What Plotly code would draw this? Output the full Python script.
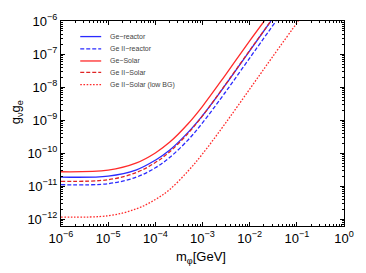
import plotly.graph_objects as go

# masses (GeV) at which curves were read
mass = [1e-6, 1e-5, 4e-5, 1e-4, 2e-4, 5e-4, 1e-3, 3e-3, 1e-2]

names = ["Ge\u2212reactor", "Ge II\u2212reactor", "Ge\u2212Solar", "Ge II\u2212Solar", "Ge II\u2212Solar (low BG)"]
colors = ["#2a2aff", "#2a2aff", "#ff2a2a", "#e02424", "#ff2a2a"]
dashes = ["solid", "4px,2px", "solid", "4px,2px", "1.6px,1.6px"]

# log10(g) values; last point is where each curve leaves the top
ge_reactor_log = [-10.72, -10.69, -10.50, -10.21, -9.91, -9.36, -8.86, -7.95, -6.90]
ge_reactor_end_mass = 10 ** -1.55
ge2_reactor_log = [-10.95, -10.92, -10.72, -10.44, -10.13, -9.59, -9.08, -8.17, -7.12]
ge2_reactor_end_mass = 10 ** -1.44
ge_solar_log = [-10.56, -10.51, -10.29, -9.99, -9.67, -9.10, -8.58, -7.65, -6.60]
ge_solar_end_mass = 10 ** -1.69
ge2_solar_log = [-10.85, -10.80, -10.58, -10.28, -9.96, -9.39, -8.87, -7.94, -6.89]
ge2_solar_end_mass = 10 ** -1.55
lowbg_extra_mass = [3e-2, 1e-1]
ge2_lowbg_log = [-11.93, -11.89, -11.68, -11.40, -11.10, -10.53, -10.02, -9.11, -8.06, -7.10, -6.06]
ge2_lowbg_end_mass = 10 ** -0.97
top_log = -6.0

series = [
    (mass + [ge_reactor_end_mass], ge_reactor_log + [top_log]),
    (mass + [ge2_reactor_end_mass], ge2_reactor_log + [top_log]),
    (mass + [ge_solar_end_mass], ge_solar_log + [top_log]),
    (mass + [ge2_solar_end_mass], ge2_solar_log + [top_log]),
    (mass + lowbg_extra_mass + [ge2_lowbg_end_mass], ge2_lowbg_log + [top_log]),
]

fig = go.Figure()
for (xs, lys), name, c, d in zip(series, names, colors, dashes):
    fig.add_trace(go.Scatter(
        x=xs, y=[10 ** v for v in lys], mode="lines", name=name,
        line=dict(color=c, width=1.3, dash=d, shape="spline", smoothing=1.0),
        showlegend=False,
    ))

# compact legend (drawn in paper coordinates)
leg_y = [0.924, 0.864, 0.805, 0.749, 0.690]
for name, c, d, yy in zip(names, colors, dashes, leg_y):
    fig.add_shape(type="line", xref="paper", yref="paper", x0=0.068, x1=0.142, y0=yy, y1=yy,
                  line=dict(color=c, width=1.3, dash=d))
    fig.add_annotation(xref="paper", yref="paper", x=0.166, y=yy, text=name, showarrow=False,
                       xanchor="left", yanchor="middle", font=dict(size=7, color="#444444"))

# axis titles
fig.add_annotation(xref="paper", yref="paper", x=0.493, y=-0.155, text="m<sub>\u03c6</sub>[GeV]",
                   showarrow=False, xanchor="center", yanchor="middle", font=dict(size=13, color="black"))
fig.add_annotation(xref="paper", yref="paper", x=-0.158, y=0.556, text="g<sub>\u03bd</sub>g<sub>e</sub>",
                   showarrow=False, xanchor="center", yanchor="middle", textangle=-90,
                   font=dict(size=13, color="black"))

x_decades = [-6, -5, -4, -3, -2, -1, 0]
y_decades = [-12, -11, -10, -9, -8, -7, -6]


def labels(decs):
    return ["10<sup>\u2212%d</sup>" % (-d) if d < 0 else "10<sup>%d</sup>" % d for d in decs]


def minors(decs):
    return [k * 10 ** d for d in range(min(decs) - 1, max(decs) + 1) for k in range(2, 10)]


axis_common = dict(
    type="log", showline=True, linecolor="black", linewidth=1.2, mirror="ticks",
    ticks="inside", ticklen=4, tickcolor="black", tickwidth=1, showgrid=False, zeroline=False,
    tickfont=dict(size=13, color="black"), ticklabeloverflow="allow",
)

fig.update_layout(
    width=366, height=273,
    margin=dict(l=61, r=13, t=21, b=47),
    paper_bgcolor="white", plot_bgcolor="white",
    font=dict(family="Liberation Sans, Arial, sans-serif", color="black"),
    xaxis=dict(range=[-6, 0], tickmode="array", tickvals=[10 ** d for d in x_decades], ticktext=labels(x_decades),
               minor=dict(ticks="inside", ticklen=2, tickcolor="black", tickmode="array",
                          tickvals=minors(x_decades), showgrid=False), **axis_common),
    yaxis=dict(range=[-12.2, -6], tickmode="array", tickvals=[10 ** d for d in y_decades], ticktext=labels(y_decades),
               minor=dict(ticks="inside", ticklen=2, tickcolor="black", tickmode="array",
                          tickvals=minors(y_decades), showgrid=False), **axis_common),
)

fig.write_html("out.html", config={"displayModeBar": False},
               post_script="document.body.style.margin='0';document.body.style.overflow='hidden';")
